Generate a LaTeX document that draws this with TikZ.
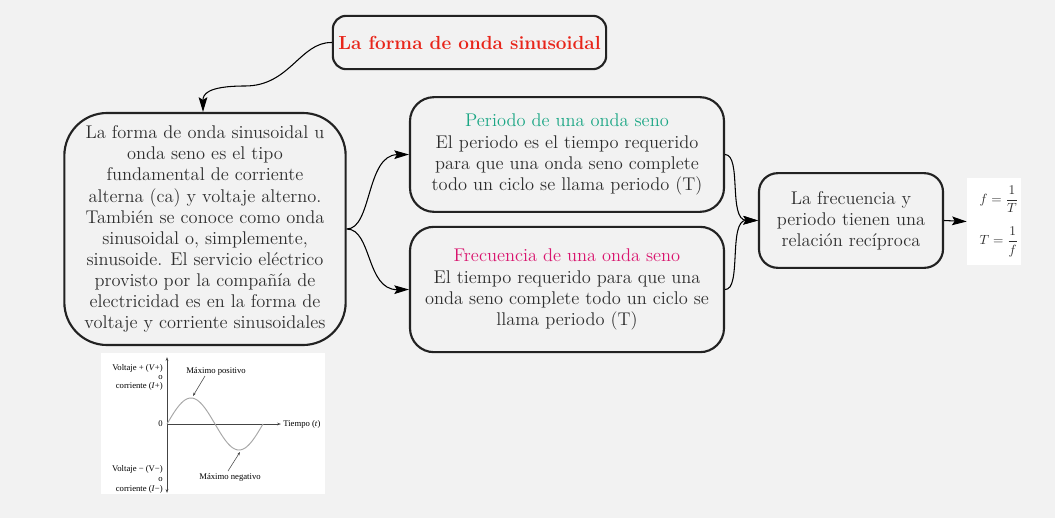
\documentclass[tikz,border=0pt]{standalone}
\usepackage{fontspec}
\newfontfamily\timesf{Liberation Serif}
\usetikzlibrary{arrows.meta}
\definecolor{bg}{HTML}{F2F2F2}
\definecolor{edge}{HTML}{222222}
\definecolor{txt}{HTML}{2E2E2E}
\definecolor{titlered}{HTML}{E8251A}
\definecolor{teal}{HTML}{1AA684}
\definecolor{magen}{HTML}{D9146E}
\definecolor{axis}{HTML}{444444}
\tikzset{
  box/.style={draw=edge, line width=1.6pt, fill=bg, rounded corners=18pt, align=center,
    text=txt, font=\fontsize{13.8}{15.8}\selectfont, inner sep=0pt},
  conn/.style={draw=black, line width=0.8pt, -{Stealth[length=11pt,width=6.5pt,inset=2pt]}},
  tiny/.style={font=\timesf\fontsize{6.5}{7}\selectfont, text=black, inner sep=0pt}
}
\begin{document}
\begin{tikzpicture}[x=0.75pt,y=-0.75pt]
\fill[bg] (0,0) rectangle (1055,518);
\useasboundingbox (0,0) rectangle (1055,518);

\node[box, rounded corners=10pt, minimum width=205pt, minimum height=40pt, text=titlered,
  font=\fontsize{14.2}{15}\selectfont\bfseries] (title) at (469.5,42.5) {La forma de onda sinusoidal};

\node[box, rounded corners=32pt, minimum width=211pt, minimum height=174pt] (desc) at (205,229)
 {La forma de onda sinusoidal u\\ onda seno es el tipo\\ fundamental de corriente\\
  alterna (ca) y voltaje alterno.\\ También se conoce como onda\\ sinusoidal o, simplemente,\\
  sinusoide. El servicio eléctrico\\ provisto por la compañía de\\ electricidad es en la forma de\\
  voltaje y corriente sinusoidales};

\node[box, minimum width=235.5pt, minimum height=86pt] (periodo) at (567,154.5)
 {\textcolor{teal}{Periodo de una onda seno}\\ El periodo es el tiempo requerido\\
  para que una onda seno complete\\ todo un ciclo se llama periodo (T)};

\node[box, minimum width=235.5pt, minimum height=94pt] (frec) at (567,289.5)
 {\textcolor{magen}{Frecuencia de una onda seno}\\ El tiempo requerido para que una\\
  onda seno complete todo un ciclo se\\ llama periodo (T)};

\node[box, rounded corners=14pt, minimum width=138pt, minimum height=71pt] (rel) at (851,220.5)
 {La frecuencia y\\ periodo tienen una\\ relación recíproca};

\node[fill=white, minimum width=40.5pt, minimum height=65pt, inner sep=0pt] (formula) at (994,221.5) {};
\node[font=\fontsize{10}{11}\selectfont, text=txt] (f1) at (999,199) {$f=\displaystyle\frac{1}{T}$};
\node[font=\fontsize{10}{11}\selectfont, text=txt] (f2) at (999,242) {$T=\displaystyle\frac{1}{f}$};

% connectors
\draw[conn] (title.west) .. controls (300,42) and (290,86) .. (245,86)
  .. controls (206,86) and (203,95) .. ([xshift=-1.5pt]desc.north);
\draw[conn] (desc.east) .. controls (372,229) and (366,155) .. (periodo.west);
\draw[conn] (desc.east) .. controls (372,229) and (366,290) .. (frec.west);
\draw[conn] (periodo.east) .. controls (742,155) and (728,220) .. (rel.west);
\draw[conn] (frec.east) .. controls (742,290) and (728,220) .. (rel.west);
\draw[conn] (rel.east) -- (formula.west);

% sine graph picture
\node[fill=white, minimum width=168pt, minimum height=106pt, inner sep=0pt] (graph) at (213,423.5) {};
\draw[axis, line width=0.5pt, {Stealth[length=3pt,width=2pt]}-{Stealth[length=3pt,width=2pt]}] (167,357) -- (167,493);
\draw[axis, line width=0.5pt, -{Stealth[length=3pt,width=2pt]}] (167,424) -- (281,424);
\draw[gray!70, line width=0.7pt] plot[domain=0:96, samples=60, smooth] ({167+\x},{424-26*sin(\x*3.75)});
\node[tiny, anchor=east] (vp1) at (163,368) {Voltaje + (\textit{V}+)};
\node[tiny, anchor=east] (vp2) at (163,377) {o};
\node[tiny, anchor=east] (vp3) at (163,386) {corriente (\textit{I}+)};
\node[tiny, anchor=east] (zero) at (163,424) {0};
\node[tiny, anchor=west] (tiempo) at (283,424) {Tiempo (\textit{t})};
\node[tiny, anchor=east] (vn1) at (163,469) {Voltaje − (V−)};
\node[tiny, anchor=east] (vn2) at (163,479) {o};
\node[tiny, anchor=east] (vn3) at (163,489) {corriente (\textit{I}−)};
\node[tiny] (maxp) at (216,371) {Máximo positivo};
\node[tiny] (maxn) at (230,477) {Máximo negativo};
\draw[axis, line width=0.4pt, -{Stealth[length=2.5pt,width=1.8pt]}] (205,376) -- (193,396);
\draw[axis, line width=0.4pt, -{Stealth[length=2.5pt,width=1.8pt]}] (228,471) -- (240,452);
\end{tikzpicture}
\end{document}
